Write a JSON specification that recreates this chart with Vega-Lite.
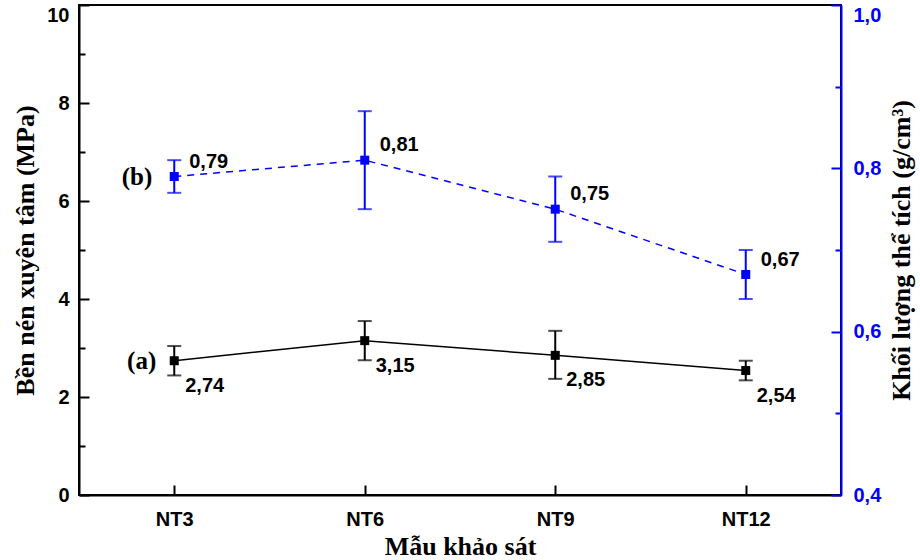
{
  "$schema": "https://vega.github.io/schema/vega-lite/v6.json",
  "width": 762,
  "height": 490,
  "autosize": {"type": "none"},
  "padding": {"left": 79, "top": 5, "right": 79, "bottom": 65},
  "background": "white",
  "config": {
    "view": {"stroke": "black", "strokeWidth": 2},
    "axis": {
      "labelFont": "Liberation Sans", "labelFontWeight": "bold", "labelFontSize": 20,
      "titleFont": "Liberation Serif", "titleFontWeight": "bold", "titleFontSize": 26,
      "domainWidth": 2, "tickWidth": 2, "grid": false,
      "domainColor": "black", "tickColor": "black", "labelColor": "black", "titleColor": "black"
    },
    "axisRight": {"domainColor": "#0000ff", "tickColor": "#0000ff", "labelColor": "#0000ff"}
  },
  "data": {
    "values": [
      {"sample": "NT3", "strength": 2.74, "s_lo": 2.44, "s_hi": 3.04, "s_label": "2,74", "density": 0.79, "d_lo": 0.77, "d_hi": 0.81, "d_label": "0,79", "tag_a": "(a)", "tag_b": "(b)"},
      {"sample": "NT6", "strength": 3.15, "s_lo": 2.75, "s_hi": 3.55, "s_label": "3,15", "density": 0.81, "d_lo": 0.75, "d_hi": 0.87, "d_label": "0,81", "tag_a": "", "tag_b": ""},
      {"sample": "NT9", "strength": 2.85, "s_lo": 2.37, "s_hi": 3.35, "s_label": "2,85", "density": 0.75, "d_lo": 0.71, "d_hi": 0.79, "d_label": "0,75", "tag_a": "", "tag_b": ""},
      {"sample": "NT12", "strength": 2.54, "s_lo": 2.34, "s_hi": 2.74, "s_label": "2,54", "density": 0.67, "d_lo": 0.64, "d_hi": 0.70, "d_label": "0,67", "tag_a": "", "tag_b": ""}
    ]
  },
  "encoding": {
    "x": {
      "field": "sample", "type": "ordinal", "sort": ["NT3", "NT6", "NT9", "NT12"],
      "scale": {"type": "point", "padding": 0.5},
      "axis": {"title": "Mẫu khảo sát", "labelAngle": 0, "tickSize": -10, "labelPadding": 24, "titlePadding": 4}
    }
  },
  "layer": [
    {
      "layer": [
        {
          "mark": {"type": "line", "color": "black", "strokeWidth": 1.5},
          "encoding": {
            "y": {
              "field": "strength", "type": "quantitative", "title": "Bền nén xuyên tâm (MPa)",
              "scale": {"domain": [0, 10], "nice": false, "zero": false},
              "axis": {
                "orient": "left",
                "values": [0, 1, 2, 3, 4, 5, 6, 7, 8, 9, 10],
                "labelExpr": "datum.value % 2 === 0 ? datum.label : ''",
                "tickSize": -10,
                "tickDash": {"condition": {"test": "datum.value % 2 === 1", "value": [6, 30]}, "value": []},
                "labelBaseline": {"condition": {"test": "datum.value === 10", "value": "top"}, "value": "middle"},
                "labelPadding": 20,
                "titlePadding": 8
              }
            }
          }
        },
        {
          "mark": {"type": "rule", "color": "black", "strokeWidth": 2},
          "encoding": {
            "y": {"field": "s_lo", "type": "quantitative", "title": "Bền nén xuyên tâm (MPa)", "scale": {"domain": [0, 10], "nice": false, "zero": false}},
            "y2": {"field": "s_hi"}
          }
        },
        {
          "mark": {"type": "tick", "color": "black", "size": 14, "thickness": 2},
          "encoding": {
            "y": {"field": "s_lo", "type": "quantitative", "title": "Bền nén xuyên tâm (MPa)", "scale": {"domain": [0, 10], "nice": false, "zero": false}}
          }
        },
        {
          "mark": {"type": "tick", "color": "black", "size": 14, "thickness": 2},
          "encoding": {
            "y": {"field": "s_hi", "type": "quantitative", "title": "Bền nén xuyên tâm (MPa)", "scale": {"domain": [0, 10], "nice": false, "zero": false}}
          }
        },
        {
          "mark": {"type": "square", "color": "black", "size": 81, "opacity": 1, "filled": true},
          "encoding": {
            "y": {"field": "strength", "type": "quantitative", "title": "Bền nén xuyên tâm (MPa)", "scale": {"domain": [0, 10], "nice": false, "zero": false}}
          }
        },
        {
          "mark": {"type": "text", "align": "left", "baseline": "middle", "dx": 11, "dy": 25, "font": "Liberation Sans", "fontWeight": "bold", "fontSize": 20, "color": "black"},
          "encoding": {
            "y": {"field": "strength", "type": "quantitative", "title": "Bền nén xuyên tâm (MPa)", "scale": {"domain": [0, 10], "nice": false, "zero": false}},
            "text": {"field": "s_label"}
          }
        },
        {
          "mark": {"type": "text", "align": "right", "baseline": "middle", "dx": -18, "font": "Liberation Serif", "fontWeight": "bold", "fontSize": 25, "color": "black"},
          "encoding": {
            "y": {"field": "strength", "type": "quantitative", "title": "Bền nén xuyên tâm (MPa)", "scale": {"domain": [0, 10], "nice": false, "zero": false}},
            "text": {"field": "tag_a"}
          }
        }
      ]
    },
    {
      "layer": [
        {
          "mark": {"type": "line", "color": "#0000ff", "strokeWidth": 1.5, "strokeDash": [7, 6]},
          "encoding": {
            "y": {
              "field": "density", "type": "quantitative", "title": "Khối lượng thể tích (g/cm³)",
              "scale": {"domain": [0.4, 1.0], "nice": false, "zero": false},
              "axis": {
                "orient": "right",
                "values": [0.4, 0.5, 0.6, 0.7, 0.8, 0.9, 1.0],
                "labelExpr": "abs((datum.value * 10) % 2) < 0.01 ? replace(format(datum.value, '.1f'), '.', ',') : ''",
                "tickSize": -10,
                "tickDash": {"condition": {"test": "abs((datum.value * 10) % 2 - 1) < 0.01", "value": [6, 30]}, "value": []},
                "labelBaseline": {"condition": {"test": "datum.value > 0.99", "value": "top"}, "value": "middle"},
                "labelPadding": 22,
                "titlePadding": 8,
                "titleAngle": 270,
                "titleBaseline": "top",
                "titleColor": "black"
              }
            }
          }
        },
        {
          "mark": {"type": "rule", "color": "#0000ff", "strokeWidth": 2},
          "encoding": {
            "y": {"field": "d_lo", "type": "quantitative", "title": "Khối lượng thể tích (g/cm³)", "scale": {"domain": [0.4, 1.0], "nice": false, "zero": false}},
            "y2": {"field": "d_hi"}
          }
        },
        {
          "mark": {"type": "tick", "color": "#0000ff", "size": 14, "thickness": 2},
          "encoding": {
            "y": {"field": "d_lo", "type": "quantitative", "title": "Khối lượng thể tích (g/cm³)", "scale": {"domain": [0.4, 1.0], "nice": false, "zero": false}}
          }
        },
        {
          "mark": {"type": "tick", "color": "#0000ff", "size": 14, "thickness": 2},
          "encoding": {
            "y": {"field": "d_hi", "type": "quantitative", "title": "Khối lượng thể tích (g/cm³)", "scale": {"domain": [0.4, 1.0], "nice": false, "zero": false}}
          }
        },
        {
          "mark": {"type": "square", "color": "#0000ff", "size": 81, "opacity": 1, "filled": true},
          "encoding": {
            "y": {"field": "density", "type": "quantitative", "title": "Khối lượng thể tích (g/cm³)", "scale": {"domain": [0.4, 1.0], "nice": false, "zero": false}}
          }
        },
        {
          "mark": {"type": "text", "align": "left", "baseline": "middle", "dx": 15, "dy": -15, "font": "Liberation Sans", "fontWeight": "bold", "fontSize": 20, "color": "black"},
          "encoding": {
            "y": {"field": "density", "type": "quantitative", "title": "Khối lượng thể tích (g/cm³)", "scale": {"domain": [0.4, 1.0], "nice": false, "zero": false}},
            "text": {"field": "d_label"}
          }
        },
        {
          "mark": {"type": "text", "align": "right", "baseline": "middle", "dx": -22, "font": "Liberation Serif", "fontWeight": "bold", "fontSize": 25, "color": "black"},
          "encoding": {
            "y": {"field": "density", "type": "quantitative", "title": "Khối lượng thể tích (g/cm³)", "scale": {"domain": [0.4, 1.0], "nice": false, "zero": false}},
            "text": {"field": "tag_b"}
          }
        }
      ]
    }
  ],
  "resolve": {"scale": {"y": "independent"}}
}
